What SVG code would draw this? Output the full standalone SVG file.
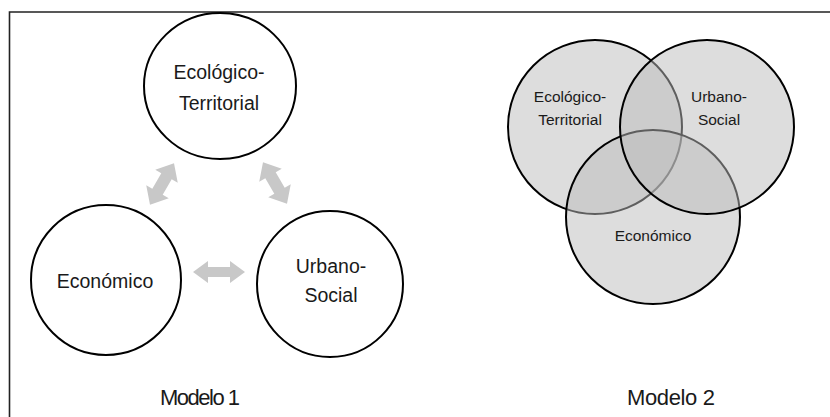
<svg xmlns="http://www.w3.org/2000/svg" width="830" height="417" viewBox="0 0 830 417">
<style>
.n{fill:#fff;stroke:#000;stroke-width:2}
.v{fill:#bbbbbb;fill-opacity:0.5;stroke:#000;stroke-width:2}
.t{font-family:"Liberation Sans",Arial,sans-serif;fill:#1a1a1a;text-anchor:middle}
.l{font-size:19.5px}
.s{font-size:15.5px}
.a{fill:#c8c8c8}
</style>
<defs>
<path id="dA" d="M-24,0 L-9,-13 L-9,-6 L9,-6 L9,-13 L24,0 L9,13 L9,6 L-9,6 L-9,13 Z"/>
</defs>
<rect width="830" height="417" fill="#fff"/>
<path d="M9.5,417 V12 H830" fill="none" stroke="#222" stroke-width="1.6"/>
<g id="connectors">
<use href="#dA" class="a" transform="translate(162,184) rotate(-60)"/>
<use href="#dA" class="a" transform="translate(275,183) rotate(60)"/>
<path class="a" d="M193,272 L208,261 L208,267 L230,267 L230,261 L245,272 L230,283 L230,277 L208,277 L208,283 Z"/>
</g>
<g id="ecologico1">
<ellipse class="n" cx="220" cy="86" rx="76" ry="73"/>
<text class="t l" x="219" y="79">Ecológico-</text>
<text class="t l" x="219" y="110">Territorial</text>
</g>
<g id="economico1">
<circle class="n" cx="106" cy="280" r="75"/>
<text class="t l" x="105" y="288">Económico</text>
</g>
<g id="urbano1">
<circle class="n" cx="330" cy="284" r="73"/>
<text class="t l" x="331" y="273">Urbano-</text>
<text class="t l" x="331" y="302">Social</text>
</g>
<g id="venn">
<circle id="ecologico2" class="v" cx="595" cy="127" r="87"/>
<circle id="economico2" class="v" cx="653" cy="217" r="87"/>
<circle id="urbano2" class="v" cx="707" cy="127" r="87"/>
<text class="t s" x="570" y="102">Ecológico-</text>
<text class="t s" x="570" y="125">Territorial</text>
<text class="t s" x="719" y="102">Urbano-</text>
<text class="t s" x="719" y="125">Social</text>
<text class="t s" x="653" y="241">Económico</text>
</g>
<text class="t" x="200" y="405" font-size="22" textLength="80">Modelo 1</text>
<text class="t" x="671" y="405" font-size="22" textLength="88">Modelo 2</text>
</svg>
